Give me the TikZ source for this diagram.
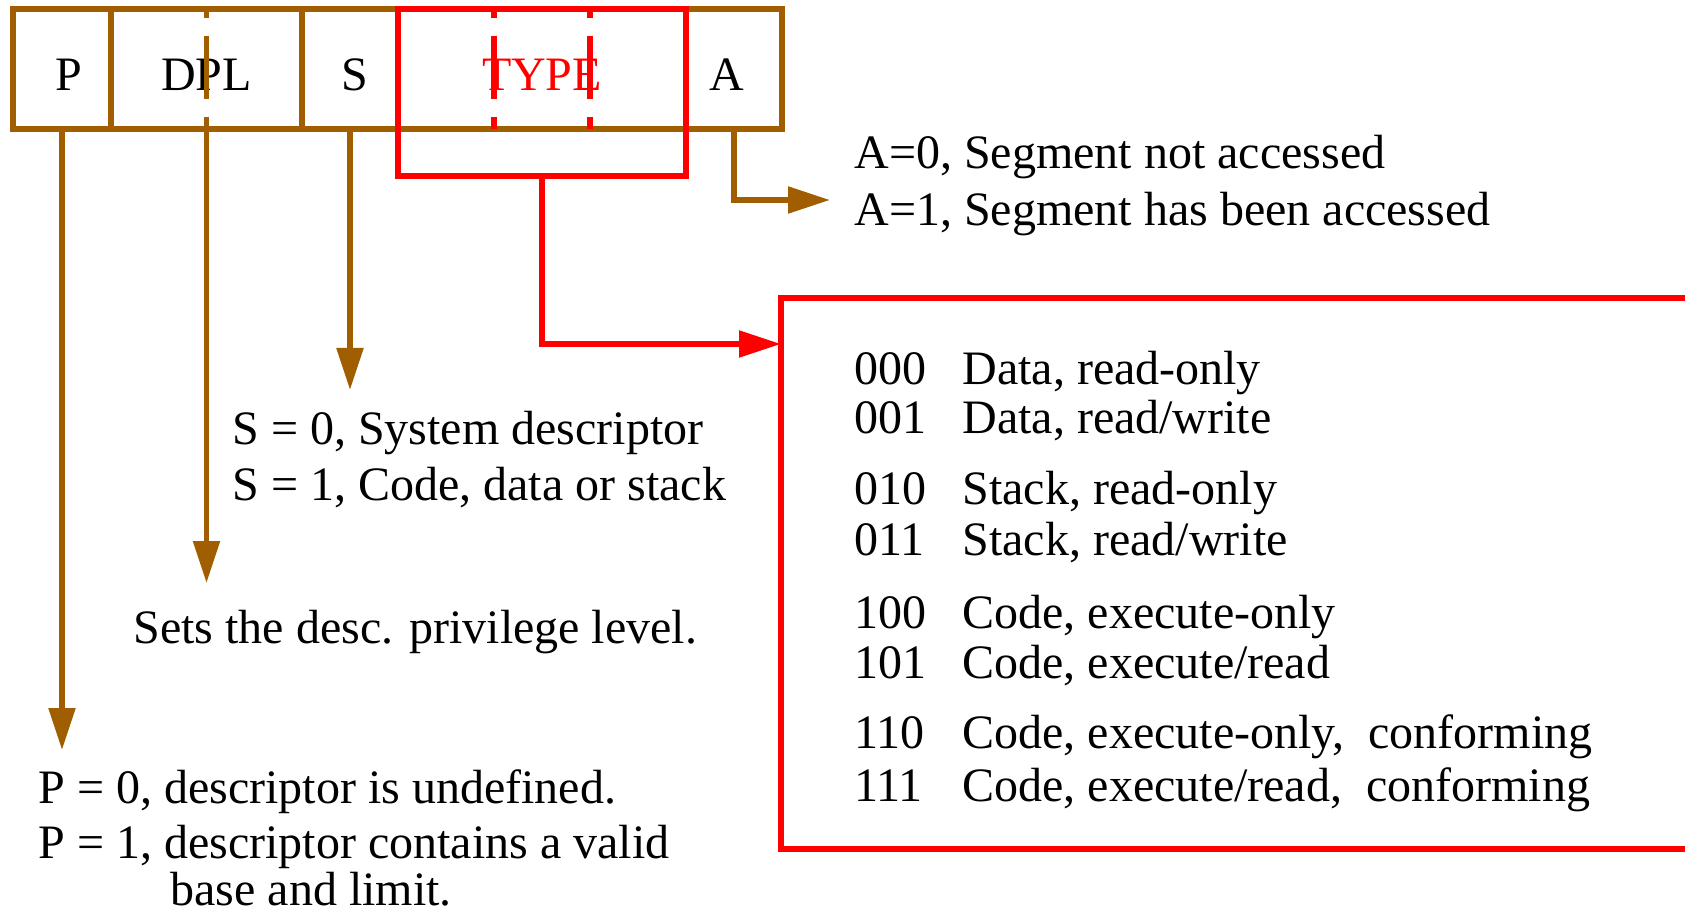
\documentclass[tikz,border=0pt]{standalone}
\usepackage{fontspec}
\setmainfont{Liberation Serif}
\usetikzlibrary{arrows.meta,calc}
\definecolor{segbrown}{RGB}{160,94,0}

\tikzset{
  field/.style={draw=segbrown, line width=2.6pt, outer sep=0pt, inner sep=0pt,
    minimum height=60pt, text height=22pt, text depth=0pt},
  brownarrow/.style={draw=segbrown, line width=2.6pt, -{Triangle[length=21pt,width=13pt]}},
  redarrow/.style={draw=red, line width=2.6pt, -{Triangle[length=21pt,width=13pt]}},
  bitsplit/.style={line width=2.6pt, dash pattern=on 31.5pt off 9pt, dash phase=27pt},
  info/.style={anchor=base west, inner sep=0pt},
}

\begin{document}
\begin{tikzpicture}[x=0.5pt, y=-0.5pt]
	\fontsize{24}{28}\selectfont
	\useasboundingbox (0,0) rectangle (1685,914);
	\clip (0,0) rectangle (1685,914);

	% access byte fields
	\node[field, minimum width=49pt] (p) at (62,69) {\kern7pt P};
	\node[field, minimum width=95.5pt] (dpl) at (206.5,69) {DPL};
	\node[field, minimum width=48pt] (s) at (350,69) {\kern5pt S};
	\node[field, minimum width=144pt, text=red] (type) at (542,69) {TYPE};
	\node[field, minimum width=48pt] (a) at (734,69) {A\kern7pt};
	\node[draw=red, line width=2.6pt, outer sep=0pt, minimum width=144pt, minimum height=83.5pt] (typebox) at (542,92.5) {};

	% bit splits
	\draw[bitsplit, segbrown] (dpl.north) -- (dpl.south);
	\draw[bitsplit, red] ($(type.north west)!1/3!(type.north east)$) -- ($(type.south west)!1/3!(type.south east)$);
	\draw[bitsplit, red] ($(type.north west)!2/3!(type.north east)$) -- ($(type.south west)!2/3!(type.south east)$);

	% type table
	\node[draw=red, line width=2.6pt, outer sep=0pt, minimum width=459.5pt, minimum height=275.5pt] (typetable) at (1240.5,573.5) {};
	\foreach \code/\desc/\yy in {000/{Data, read-only}/385, 001/{Data, read/write}/433,
	    010/{Stack, read-only}/504, 011/{Stack, read/write}/555,
	    100/{Code, execute-only}/628, 101/{Code, execute/read}/678,
	    110/{Code, execute-only,\ \ conforming}/748, 111/{Code, execute/read,\ \ conforming}/801} {
		\node[info] (code\code) at (854,\yy) {\code};
		\node[info] (desc\code) at (962,\yy) {\desc};
	}

	% explanations
	\node[info] (a0) at (854,169) {A=0, Segment not accessed};
	\node[info] (a1) at (854,226) {A=1, Segment has been accessed};
	\node[info] (s0) at (232,444) {S = 0, System descriptor};
	\node[info] (s1) at (232,500) {S = 1, Code, data or stack};
	\node[info] (dpltext) at (133,643) {Sets the desc. privilege level.};
	\node[info] (p0) at (38,803) {P = 0, descriptor is undefined.};
	\node[info] (p1) at (38,858) {P = 1, descriptor contains a valid};
	\node[info] (p2) at (170,905) {base and limit.};

	% arrows
	\coordinate (ptip) at (62,750);
	\coordinate (dpltip) at (206.5,583);
	\coordinate (stip) at (350,390);
	\coordinate (atip) at (830,200);
	\coordinate (typetip) at (781,344);
	\draw[brownarrow] (p.south) -- (ptip);
	\draw[brownarrow] (dpl.south) -- (dpltip);
	\draw[brownarrow] (s.south) -- (stip);
	\draw[brownarrow] (a.south) |- (atip);
	\draw[redarrow] (typebox.south) |- (typetip);
\end{tikzpicture}
\end{document}
